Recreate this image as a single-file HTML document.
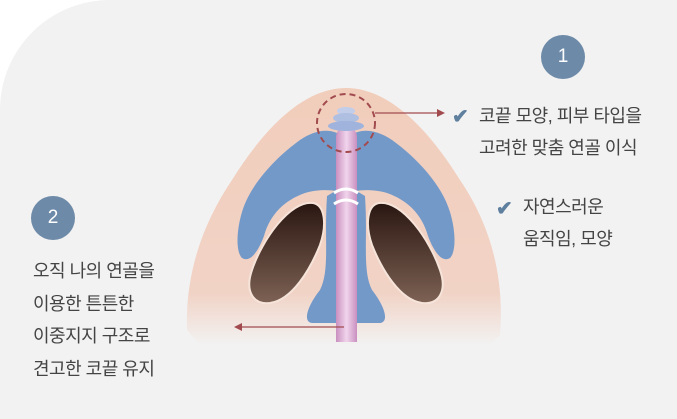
<!DOCTYPE html>
<html><head><meta charset="utf-8"><style>
html,body{margin:0;padding:0}
body{width:677px;height:419px;background:#fff;position:relative;overflow:hidden;font-family:"Liberation Sans","Noto Sans CJK KR",sans-serif}
.bg{position:absolute;left:0;top:0;width:677px;height:419px;background:#f2f2f2;border-top-left-radius:110px}
.t{position:absolute;color:#444;font-size:18px;line-height:20px;white-space:nowrap;letter-spacing:-0.5px}
.c{position:absolute;width:44px;height:44px;border-radius:50%;background:#6d8aa8;color:#fff;font-size:19px;line-height:44px;text-align:center}
.ck{position:absolute;color:#5f7f9f;font-size:20px;font-weight:bold}
</style></head><body>
<div class="bg"></div>
<svg width="677" height="419" style="position:absolute;left:0;top:0">
<defs>
<linearGradient id="sk" x1="0" y1="0" x2="0" y2="1"><stop offset="0" stop-color="#f1cdbb"/><stop offset="0.8" stop-color="#f1d3c6"/><stop offset="1" stop-color="#f2f2f2"/></linearGradient>
<linearGradient id="ns" x1="0" y1="0" x2="0" y2="1"><stop offset="0" stop-color="#2a1611"/><stop offset="1" stop-color="#7d6254"/></linearGradient>
<linearGradient id="pk" x1="0" y1="0" x2="1" y2="0"><stop offset="0" stop-color="#c98fbf"/><stop offset="0.5" stop-color="#f1d5ec"/><stop offset="1" stop-color="#c98fbf"/></linearGradient>
<g id="half">
<path d="M337,133 C325,128 312,132 300,140 C275,158 250,185 242,212 C236,232 236,252 242,258 C250,263 258,252 264,236 C270,214 285,200 305,193 C318,189 330,190 337,191 Z" fill="#7399c9"/>
<path d="M337,190 L327,196 C324,240 330,270 320,290 C308,305 302,322 312,323 L337,323 Z" fill="#7399c9"/>
<path d="M313,203 C325,205 327,225 320,245 C310,270 292,300 270,303 C252,305 245,290 252,270 C262,240 290,200 313,203 Z" fill="url(#ns)" stroke="#f6e4da" stroke-width="2"/>
</g>
</defs>
<path d="M187,330 C185,270 205,220 232,180 C260,135 300,88 346,88 C392,88 432,135 460,180 C487,220 505,270 500,335 L490,345 L200,345 Z" fill="url(#sk)"/>
<use href="#half"/>
<use href="#half" transform="translate(692,0) scale(-1,1)"/>
<rect x="336" y="127" width="21" height="215" rx="10" fill="url(#pk)"/>
<rect x="336" y="140" width="21" height="202" fill="url(#pk)"/>
<path d="M334,193 Q346,185 358,193 M334,204 Q346,196 358,204" stroke="#fff" stroke-width="3" fill="none"/>
<ellipse cx="346" cy="111" rx="9" ry="4" fill="#c2cdea"/>
<ellipse cx="346" cy="118" rx="13" ry="5" fill="#aebfe2"/>
<ellipse cx="346" cy="126" rx="18" ry="5" fill="#9fb3dc"/>
<circle cx="346" cy="123" r="29" fill="none" stroke="#a24b4f" stroke-width="2" stroke-dasharray="6,4"/>
<line x1="375" y1="113" x2="438" y2="113" stroke="#a24b4f" stroke-width="1.3"/>
<path d="M445,113 L437,109 L437,117 Z" fill="#a24b4f"/>
<line x1="344" y1="327" x2="241" y2="327" stroke="#a24b4f" stroke-width="1.3"/>
<path d="M234,327 L242,323 L242,331 Z" fill="#a24b4f"/>
</svg>
<div class="c" style="left:541px;top:35px">1</div>
<div class="c" style="left:31px;top:196px">2</div>
<div class="ck" style="left:452px;top:104px">✔</div>
<div class="t" style="left:479px;top:106px">코끝 모양, 피부 타입을</div>
<div class="t" style="left:479px;top:138px">고려한 맞춤 연골 이식</div>
<div class="ck" style="left:496px;top:196px">✔</div>
<div class="t" style="left:523px;top:197px">자연스러운</div>
<div class="t" style="left:523px;top:229px">움직임, 모양</div>
<div class="t" style="left:33px;top:261px">오직 나의 연골을</div>
<div class="t" style="left:33px;top:294px">이용한 튼튼한</div>
<div class="t" style="left:33px;top:326px">이중지지 구조로</div>
<div class="t" style="left:33px;top:359px">견고한 코끝 유지</div>
</body></html>
